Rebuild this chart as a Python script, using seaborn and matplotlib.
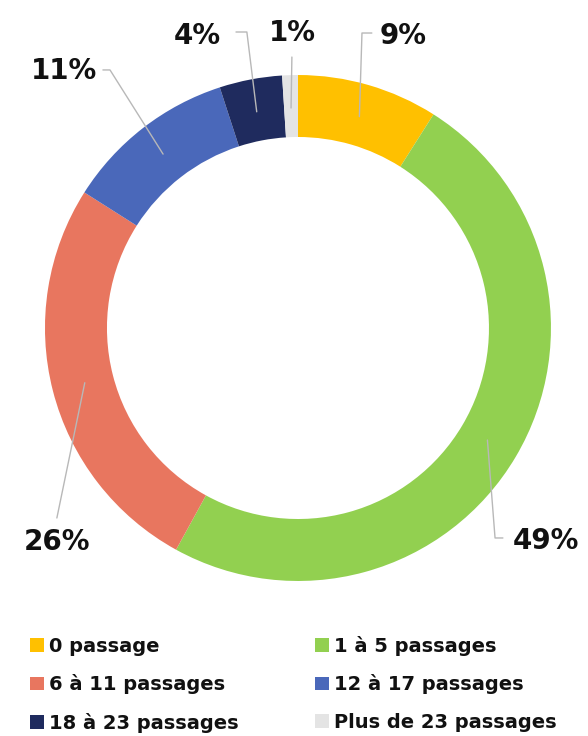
import numpy as np
import matplotlib
matplotlib.use("Agg")
import matplotlib.pyplot as plt
import seaborn as sns

# data
categories = ["0 passage", "1 à 5 passages", "6 à 11 passages",
              "12 à 17 passages", "18 à 23 passages", "Plus de 23 passages"]
shares = [9, 49, 26, 11, 4, 1]
pct_labels = ["9%", "49%", "26%", "11%", "4%", "1%"]
colors = ["#FFC000", "#92D050", "#E8765F", "#4A68BA", "#1F2B5E", "#E4E4E4"]

# label placement (axes data units, radius = 1)
label_pos = [(0.324, 1.154), (0.850, -0.842), (-0.953, -0.846),
             (-0.925, 1.016), (-0.399, 1.154), (-0.024, 1.166)]
label_ha = ["left", "left", "center", "center", "center", "center"]
leader_elbow = [(0.253, 1.166), (0.779, -0.830), (-0.953, -0.751),
                (-0.743, 1.020), (-0.202, 1.170), (-0.024, 1.071)]
leader_end = [(0.292, 1.166), (0.810, -0.830), (-0.953, -0.751),
              (-0.771, 1.020), (-0.245, 1.170), (-0.024, 1.071)]


def main():
    sns.set_theme(style="white")
    plt.rcParams["font.family"] = ["DejaVu Sans"]

    fig = plt.figure(figsize=(5.88, 7.36), dpi=100)
    ax = fig.add_axes([0.0765, 0.2106, 0.8605, 0.6875])

    wedges, _ = ax.pie(shares, colors=colors, startangle=90, counterclock=False,
                       radius=1.0, wedgeprops=dict(width=0.245, linewidth=0))
    ax.set_xlim(-1, 1)
    ax.set_ylim(-1, 1)
    ax.set_aspect("equal")
    ax.axis("off")

    # leader lines + percentage labels
    for w, lab, pos, ha, elb, end in zip(wedges, pct_labels, label_pos, label_ha,
                                         leader_elbow, leader_end):
        mid = np.deg2rad((w.theta1 + w.theta2) / 2)
        anchor = (0.87 * np.cos(mid), 0.87 * np.sin(mid))
        ax.plot([anchor[0], elb[0], end[0]], [anchor[1], elb[1], end[1]],
                color="#B8B8B8", lw=1, clip_on=False, zorder=3)
        ax.text(pos[0], pos[1], lab, ha=ha, va="center", fontsize=20,
                fontweight="bold", color="#111111", clip_on=False)

    # legend filled row by row
    handles = wedges[0::2] + wedges[1::2]
    names = categories[0::2] + categories[1::2]
    leg = fig.legend(handles, names, ncol=2, loc="upper left",
                     bbox_to_anchor=(0.051, 0.136), frameon=False,
                     prop=dict(weight="bold", size=14),
                     handlelength=0.7, handleheight=0.7, handletextpad=0.3,
                     labelspacing=0.95, columnspacing=3.9,
                     borderpad=0, borderaxespad=0)
    for t in leg.get_texts():
        t.set_color("#111111")

    fig.savefig("out.png", dpi=100, facecolor="white")


if __name__ == "__main__":
    main()
